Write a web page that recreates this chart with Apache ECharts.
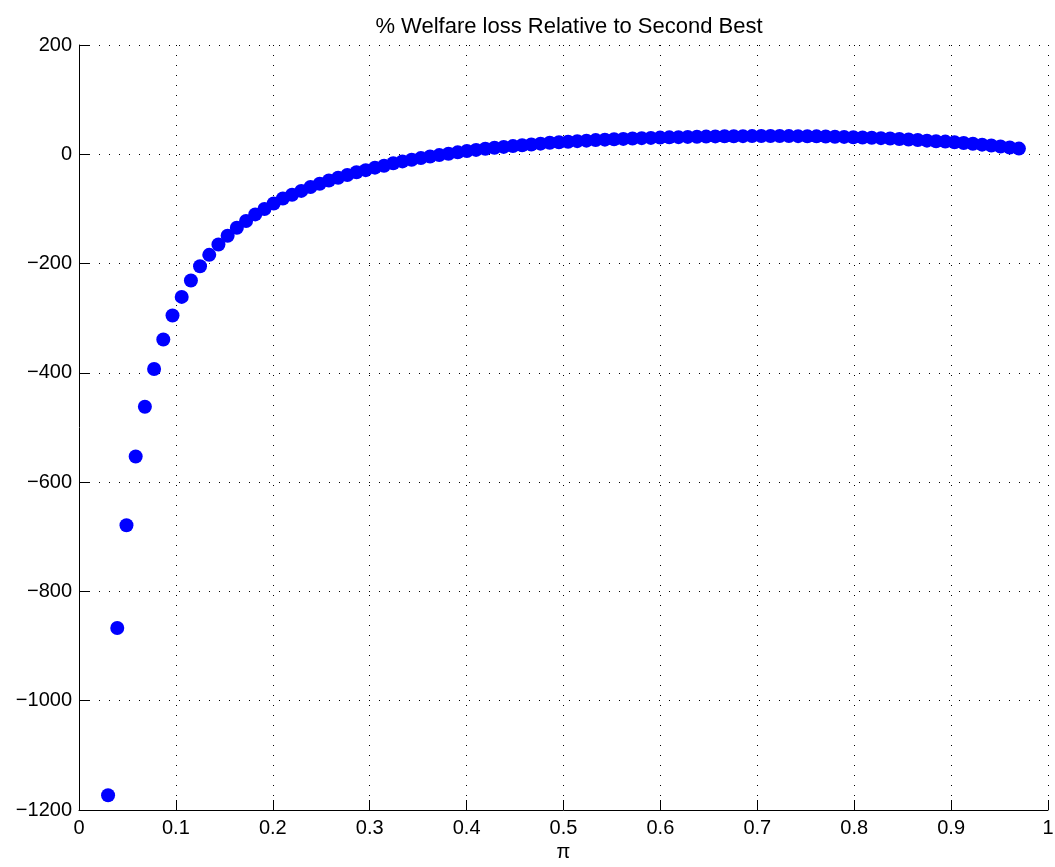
<!DOCTYPE html>
<html>
<head>
<meta charset="utf-8">
<title>% Welfare loss Relative to Second Best</title>
<script src="https://cdn.jsdelivr.net/npm/echarts@6/dist/echarts.min.js"></script>
<style>
    html, body { margin: 0; padding: 0; background: #fff; }
    .chart { width: 1055px; height: 867px; }
</style>
</head>
<body>
<div class="chart"></div>
<script>
// pi 取值（横轴）
var piValues = [
    0.0300, 0.0395, 0.0490, 0.0585, 0.0680, 0.0775, 0.0870, 0.0965, 0.1060, 0.1155,
    0.1249, 0.1344, 0.1439, 0.1534, 0.1629, 0.1724, 0.1819, 0.1914, 0.2009, 0.2104,
    0.2199, 0.2294, 0.2389, 0.2484, 0.2579, 0.2674, 0.2769, 0.2864, 0.2959, 0.3054,
    0.3148, 0.3243, 0.3338, 0.3433, 0.3528, 0.3623, 0.3718, 0.3813, 0.3908, 0.4003,
    0.4098, 0.4193, 0.4288, 0.4383, 0.4478, 0.4573, 0.4668, 0.4763, 0.4858, 0.4953,
    0.5047, 0.5142, 0.5237, 0.5332, 0.5427, 0.5522, 0.5617, 0.5712, 0.5807, 0.5902,
    0.5997, 0.6092, 0.6187, 0.6282, 0.6377, 0.6472, 0.6567, 0.6662, 0.6757, 0.6852,
    0.6946, 0.7041, 0.7136, 0.7231, 0.7326, 0.7421, 0.7516, 0.7611, 0.7706, 0.7801,
    0.7896, 0.7991, 0.8086, 0.8181, 0.8276, 0.8371, 0.8466, 0.8561, 0.8656, 0.8751,
    0.8845, 0.8940, 0.9035, 0.9130, 0.9225, 0.9320, 0.9415, 0.9510, 0.9605, 0.9700
]

// 福利损失百分比（纵轴）
var welfareLoss = [
    -1173, -867, -679, -553, -462, -393, -339, -295, -261, -231,
    -205, -184, -165, -149, -134.5, -122, -110, -100, -90, -81,
    -74, -67, -60, -54, -48, -43, -38, -33, -29, -24.5,
    -21, -16.5, -13, -10, -7, -4, -1.5, 1, 3.5, 6,
    8, 10, 12, 13.5, 15, 16.5, 18, 19.5, 21, 22,
    23, 24, 25, 26, 26.8, 27.5, 28.2, 28.9, 29.5, 30,
    30.5, 31, 31.4, 31.8, 32.1, 32.4, 32.7, 32.9, 33.1, 33.2,
    33.3, 33.4, 33.4, 33.4, 33.3, 33.2, 33, 32.8, 32.5, 32.2,
    31.8, 31.3, 30.8, 30.2, 29.5, 28.8, 28, 27.1, 26.1, 25,
    23.8, 23.2, 22, 20.7, 19.2, 17.6, 16, 14.2, 12.3, 10.4
]

// 坐标轴范围
var xRange = [0, 1, 0.1]
var yRange = [-1200, 200, 200]

var font = '"Liberation Sans", Arial, sans-serif'

var points = piValues.map(function (x, i) {
    return [x, welfareLoss[i]]
})

var myCharts = echarts.init(document.querySelector('.chart'))

var option = {
    backgroundColor: '#fff',
    animation: false,
    title: {
        text: '% Welfare loss Relative to Second Best',
        left: 564,
        top: 11,
        textAlign: 'center',
        textStyle: {
            color: '#000',
            fontWeight: 'normal',
            fontSize: 22,
            fontFamily: font
        }
    },
    grid: {
        left: 79,
        right: 7,
        top: 45,
        bottom: 57,
        outerBoundsMode: 'none'
    },
    xAxis: {
        type: 'value',
        min: xRange[0],
        max: xRange[1],
        interval: xRange[2],
        name: 'π',
        nameLocation: 'middle',
        nameGap: 30,
        nameTextStyle: {
            color: '#000',
            fontSize: 20,
            fontFamily: font
        },
        //横轴放在底部，不跟随0刻度
        axisLine: { onZero: false, lineStyle: { color: '#000', width: 1 } },
        axisTick: { inside: true, length: 10, lineStyle: { color: '#000' } },
        axisLabel: {
            color: '#000',
            fontSize: 20,
            fontFamily: font,
            margin: 8,
            formatter: function (v) {
                return String(+v.toFixed(1))
            }
        },
        //虚线网格
        splitLine: {
            show: true,
            lineStyle: { color: '#000', width: 1, type: [1, 9] }
        }
    },
    yAxis: {
        type: 'value',
        min: yRange[0],
        max: yRange[1],
        interval: yRange[2],
        axisLine: { show: true, onZero: false, lineStyle: { color: '#000', width: 1 } },
        axisTick: { show: true, inside: true, length: 10, lineStyle: { color: '#000' } },
        axisLabel: {
            color: '#000',
            fontSize: 20,
            fontFamily: font,
            margin: 7,
            formatter: function (v) {
                return v < 0 ? '\u2212' + Math.abs(v) : String(v)
            }
        },
        splitLine: {
            show: true,
            lineStyle: { color: '#000', width: 1, type: [1, 9] }
        }
    },
    series: [
        {
            type: 'scatter',
            data: points,
            symbol: 'circle',
            symbolSize: 14,
            itemStyle: {
                color: '#0000ff',
                opacity: 1
            }
        }
    ]
}

myCharts.setOption(option)

window.addEventListener('resize', function () {
    myCharts.resize()
})
</script>
</body>
</html>
